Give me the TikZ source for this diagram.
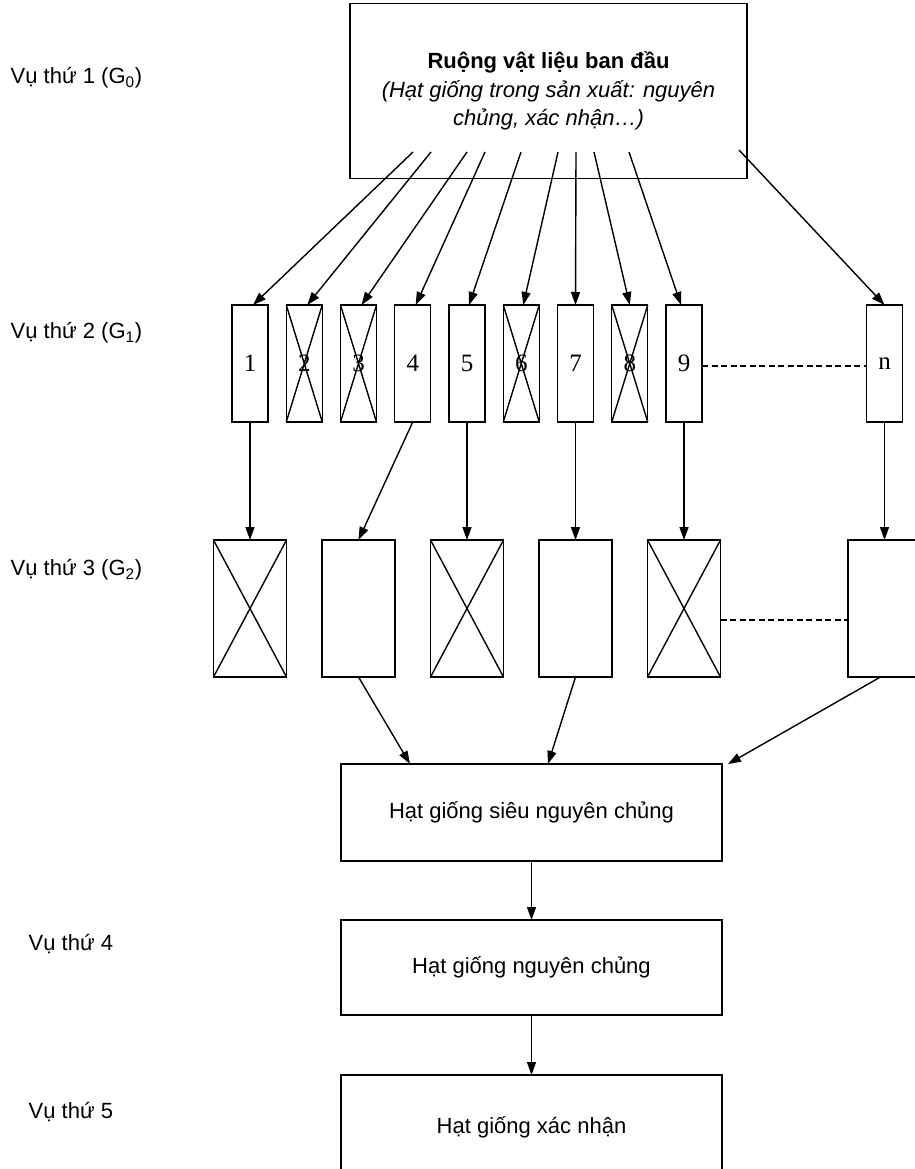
\documentclass[tikz,border=0pt]{standalone}
\usepackage{fontspec}
\setmainfont{Liberation Sans}
\newfontfamily\chuso{Liberation Serif}
\usetikzlibrary{positioning,arrows.meta}

\begin{document}
\begin{tikzpicture}[
      x=1pt, y=-1pt,
      line width=1.4pt,
      font=\fontsize{22}{28.5}\selectfont,
      hang1/.style={
        draw,
        inner sep=0pt,
        outer sep=0pt,
        minimum width=36pt,
        minimum height=117pt,
        font=\chuso\fontsize{25}{25}\selectfont
      },
      hang2/.style={
        draw,
        inner sep=0pt,
        outer sep=0pt,
        minimum width=73pt,
        minimum height=137pt
      },
      khung/.style={
        draw,
        align=center,
        inner sep=0pt,
        outer sep=0pt,
        minimum width=381pt
      },
      vu/.style={
        anchor=west,
        inner sep=0pt
      },
      arr/.style={
        ->,
        >={Triangle[length=13pt,width=9pt]}
      },
      gach/.style={
        dash pattern=on 6pt off 3.5pt
      }
    ]
    \useasboundingbox (0,0) rectangle (914,1169);

    % cac vu
    \node[vu] (v1) at (10,78)   {Vụ thứ 1 (G\textsubscript{0})} ;
    \node[vu] (v2) at (10,333)  {Vụ thứ 2 (G\textsubscript{1})} ;
    \node[vu] (v3) at (10,570)  {Vụ thứ 3 (G\textsubscript{2})} ;
    \node[vu] (v4) at (28,944)  {Vụ thứ 4} ;
    \node[vu] (v5) at (28,1112) {Vụ thứ 5} ;

    \node[khung, minimum width=397pt, minimum height=175pt] (ruong) at (548.5,91)
      {\textbf{Ruộng vật liệu ban đầu}\\
       \textit{(Hạt giống trong sản xuất: nguyên}\\
       \textit{chủng, xác nhận…)}} ;

    % G1
    \node[hang1] (p1) at (250,363.5) {1} ;
    \node[hang1, right=18.25pt of p1] (p2) {2} ;
    \node[hang1, right=18.25pt of p2] (p3) {3} ;
    \node[hang1, right=18.25pt of p3] (p4) {4} ;
    \node[hang1, right=18.25pt of p4] (p5) {5} ;
    \node[hang1, right=18.25pt of p5] (p6) {6} ;
    \node[hang1, right=18.25pt of p6] (p7) {7} ;
    \node[hang1, right=18.25pt of p7] (p8) {8} ;
    \node[hang1, right=18.25pt of p8] (p9) {9} ;
    \node[hang1] (pn) at (884.5,363.5) {n} ;

    % G2
    \node[hang2, below=118pt of p1] (q1) {} ;
    \node[hang2, below=118pt of p3] (q2) {} ;
    \node[hang2, below=118pt of p5] (q3) {} ;
    \node[hang2, below=118pt of p7] (q4) {} ;
    \node[hang2, below=118pt of p9] (q5) {} ;
    \node[hang2, below=118pt of pn] (q6) {} ;

    \node[khung, minimum height=97pt] (snc) at (531.5,812.5) {Hạt giống siêu nguyên chủng} ;
    \node[khung, minimum height=95pt, below=59pt of snc] (nc) {Hạt giống nguyên chủng} ;
    \node[khung, minimum height=105pt, below=60pt of nc] (xn) {Hạt giống xác nhận} ;

    % loai bo
    \draw (p2.north west) -- (p2.south east) (p2.north east) -- (p2.south west) ;
    \draw (p3.north west) -- (p3.south east) (p3.north east) -- (p3.south west) ;
    \draw (p6.north west) -- (p6.south east) (p6.north east) -- (p6.south west) ;
    \draw (p8.north west) -- (p8.south east) (p8.north east) -- (p8.south west) ;
    \draw (q1.north west) -- (q1.south east) (q1.north east) -- (q1.south west) ;
    \draw (q3.north west) -- (q3.south east) (q3.north east) -- (q3.south west) ;
    \draw (q5.north west) -- (q5.south east) (q5.north east) -- (q5.south west) ;

    \draw[gach] ([yshift=-2.5pt]p9.east) -- ([yshift=-2.5pt]pn.west) ;
    \draw[gach] ([yshift=-11.5pt]q5.east) -- ([yshift=-11.5pt]q6.west) ;

    \coordinate (s1) at (413,152) ;
    \coordinate (s2) at (431,152) ;
    \coordinate (s3) at (467,152) ;
    \coordinate (s4) at (485,152) ;
    \coordinate (s5) at (521,152) ;
    \coordinate (s6) at (558,152) ;
    \coordinate (s7) at (576,152) ;
    \coordinate (s8) at (594,152) ;
    \coordinate (s9) at (629,152) ;
    \coordinate (sn) at (739,150) ;

    \draw[arr] (s1) -- ([xshift=3pt]p1.north) ;
    \draw[arr] (s2) -- ([xshift=3pt]p2.north) ;
    \draw[arr] (s3) -- ([xshift=3pt]p3.north) ;
    \draw[arr] (s4) -- ([xshift=3pt]p4.north) ;
    \draw[arr] (s5) -- ([xshift=2pt]p5.north) ;
    \draw[arr] (s6) -- ([xshift=2pt]p6.north) ;
    \draw[arr] (s7) -- (p7.north) ;
    \draw[arr] (s8) -- (p8.north) ;
    \draw[arr] (s9) -- ([xshift=-3pt]p9.north) ;
    \draw[arr] (sn) -- (pn.north) ;

    \draw[arr] (p1.south) -- (q1.north) ;
    \draw[arr] (p4.south) -- (q2.north) ;
    \draw[arr] (p5.south) -- (q3.north) ;
    \draw[arr] (p7.south) -- (q4.north) ;
    \draw[arr] (p9.south) -- (q5.north) ;
    \draw[arr] (pn.south) -- (q6.north) ;

    \draw[arr] (q2.south) -- ([xshift=-121.5pt]snc.north) ;
    \draw[arr] (q4.south) -- ([xshift=16.5pt]snc.north) ;
    \draw[arr] ([xshift=-4pt]q6.south) -- ([xshift=6pt]snc.north east) ;

    \draw[arr] (snc) -- (nc) ;
    \draw[arr] (nc) -- (xn) ;
  \end{tikzpicture}
\end{document}
